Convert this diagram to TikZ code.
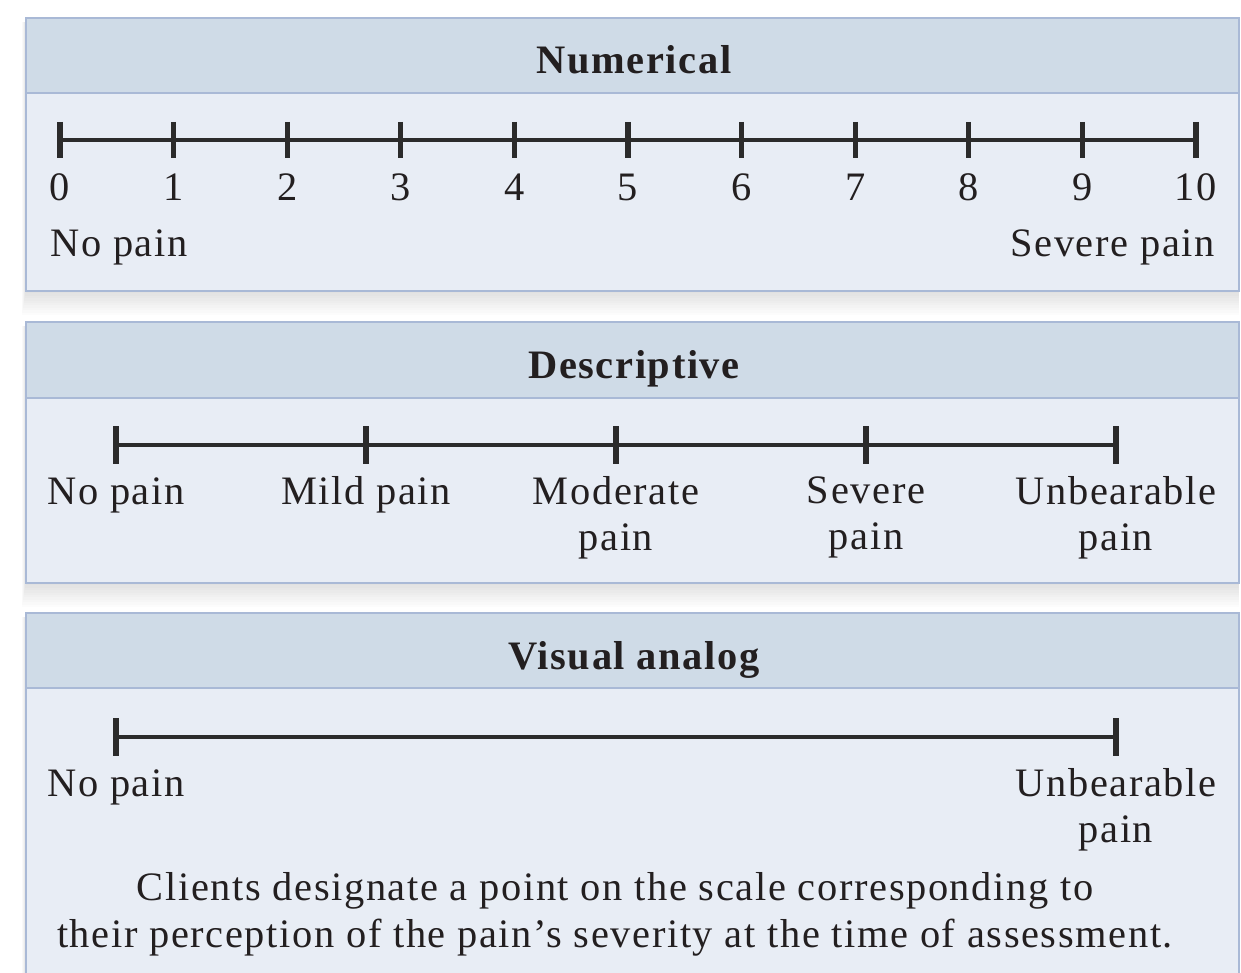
\documentclass[tikz,border=0pt]{standalone}
\usepackage{fontspec}
\setmainfont{Liberation Serif}[LetterSpace=4]
\usetikzlibrary{positioning}

\definecolor{headblue}{HTML}{CFDBE7}
\definecolor{bodyblue}{HTML}{E8EDF5}
\definecolor{edgeblue}{HTML}{A9B9D6}
\definecolor{scaleink}{HTML}{2B2B2B}
\definecolor{textink}{HTML}{231F20}

\tikzset{
  panelbody/.style={fill=bodyblue, draw=edgeblue, line width=1.2pt},
  panelhead/.style={fill=headblue, draw=edgeblue, line width=1.2pt},
  paneltitle/.style={font=\fontsize{23}{28}\selectfont\bfseries, text=textink, inner sep=0pt, anchor=base},
  scaleline/.style={draw=scaleink, line width=2.3pt},
  scaletick/.style={draw=scaleink, line width=3pt},
  painlabel/.style={font=\fontsize{23}{26.5}\selectfont, text=textink, align=center, inner sep=0pt},
}

% soft shadow under a panel: left, top, right, bottom
\newcommand{\panelshadow}[4]{%
  \foreach \k in {1,...,10}
    \fill[black, opacity=0.012] (#1-0.4*\k,#2+4) rectangle (#3,#4+2.4*\k);
}

\begin{document}
\begin{tikzpicture}[x=0.02cm, y=-0.02cm]
  \clip (0,0) rectangle (1241,973);
  \fill[white] (0,0) rectangle (1241,973);

  % Panneaux
  \panelshadow{26}{18}{1239}{291}
  \draw[panelbody] (26,18) rectangle (1239,291);
  \draw[panelhead] (26,18) rectangle (1239,93);

  \panelshadow{26}{322}{1239}{583}
  \draw[panelbody] (26,322) rectangle (1239,583);
  \draw[panelhead] (26,322) rectangle (1239,398);

  \panelshadow{26}{613}{1239}{1000}
  \draw[panelbody] (26,613) rectangle (1239,1000);
  \draw[panelhead] (26,613) rectangle (1239,688);

  % Titres
  \node[paneltitle] (numtitle) at (634,74) {Numerical};
  \node[paneltitle] (destitle) at (634,378) {Descriptive};
  \node[paneltitle] (vistitle) at (634,669) {Visual analog};

  % Echelle numerique
  \foreach \i in {0,...,10}{
    \coordinate (n\i) at ({60+113.6*\i},140);
    \draw[scaletick] ({60+113.6*\i},122) -- ({60+113.6*\i},158);
    \node[painlabel, anchor=base] (nlab\i) at ({60+113.6*\i},201) {\i};
  }
  \draw[scaleline] (n0) -- (n10);
  \node[painlabel, anchor=base west] (numlow) at (50,256) {No pain};
  \node[painlabel, anchor=base east] (numhigh) at (1215,256) {Severe pain};

  % Echelle descriptive
  \foreach \name/\j in {none/0, mild/1, moderate/2, severe/3, unbearable/4}{
    \coordinate (d\name) at ({116+250*\j},445);
    \draw[scaletick] ({116+250*\j},426) -- ({116+250*\j},464);
  }
  \draw[scaleline] (dnone) -- (dunbearable);
  \node[painlabel, anchor=base] (dlabnone) at (116,504) {No pain};
  \node[painlabel, anchor=base] (dlabmild) at (366,504) {Mild pain};
  \node[painlabel, anchor=north] (dlabmod) at (616,476) {Moderate\\pain};
  \node[painlabel, anchor=north] (dlabsev) at (866,476) {Severe\\pain};
  \node[painlabel, anchor=north] (dlabunb) at (1116,476) {Unbearable\\pain};

  % Echelle visuelle analogique
  \coordinate (vlow) at (116,737);
  \coordinate (vhigh) at (1116,737);
  \draw[scaletick] (116,718) -- (116,756);
  \draw[scaletick] (1116,718) -- (1116,756);
  \draw[scaleline] (vlow) -- (vhigh);
  \node[painlabel, anchor=base] (vlablow) at (116,796) {No pain};
  \node[painlabel, anchor=north] (vlabhigh) at (1116,768) {Unbearable\\pain};

  \node[painlabel, anchor=north, font=\fontsize{23}{27}\selectfont] (vnote) at (615,872)
    {Clients designate a point on the scale corresponding to\\
     their perception of the pain’s severity at the time of assessment.};
\end{tikzpicture}
\end{document}
